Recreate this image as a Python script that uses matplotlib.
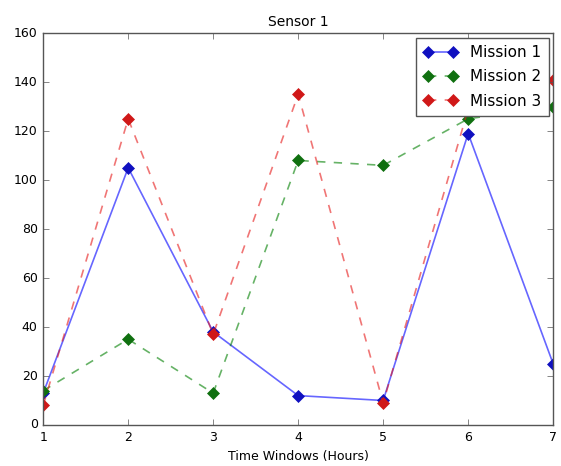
import matplotlib
matplotlib.use("Agg")
from matplotlib import pyplot as plt

horas = [1, 2, 3, 4, 5, 6, 7]
mision_1 = [13, 105, 38, 12, 10, 119, 25]
mision_2 = [14, 35, 13, 108, 106, 125, 130]
mision_3 = [8, 125, 37, 135, 9, 129, 141]

plt.style.use('classic')
plt.rcParams['font.family'] = 'DejaVu Sans'

fig = plt.figure(figsize=(5.61, 4.66), dpi=100, facecolor='white')
ax = fig.add_axes([0.077, 0.088, 0.909, 0.841])

ax.plot(horas, mision_1, color=(0, 0, 1, 0.6), linestyle='-', linewidth=1.2,
        marker='D', markersize=6, markerfacecolor='#1010c0', markeredgecolor='#1010c0',
        label='Mission 1')
ax.plot(horas, mision_2, color=(0, 0.5, 0, 0.6), linestyle='--', linewidth=1.2,
        marker='D', markersize=6, markerfacecolor='#107010', markeredgecolor='#107010',
        label='Mission 2')
ax.plot(horas, mision_3, color=(0.9, 0.1, 0.1, 0.6), linestyle='--', linewidth=1.2,
        marker='D', markersize=6, markerfacecolor='#d01818', markeredgecolor='#d01818',
        label='Mission 3')

ax.set_xlim(1, 7)
ax.set_ylim(0, 160)
ax.set_title('Sensor 1', fontsize=10)
ax.set_xlabel('Time Windows (Hours)', fontsize=9)
ax.tick_params(labelsize=9, color='#555555')
for s in ax.spines.values():
    s.set_color('#555555')

leg = ax.legend(loc='upper right', fontsize=11, numpoints=2, borderaxespad=0.3,
                labelspacing=0.6, borderpad=0.5, handlelength=2.2, framealpha=1)
leg.get_frame().set_edgecolor('#555555')
leg.set_zorder(5)

plt.savefig('out.png', dpi=100, facecolor='white')
